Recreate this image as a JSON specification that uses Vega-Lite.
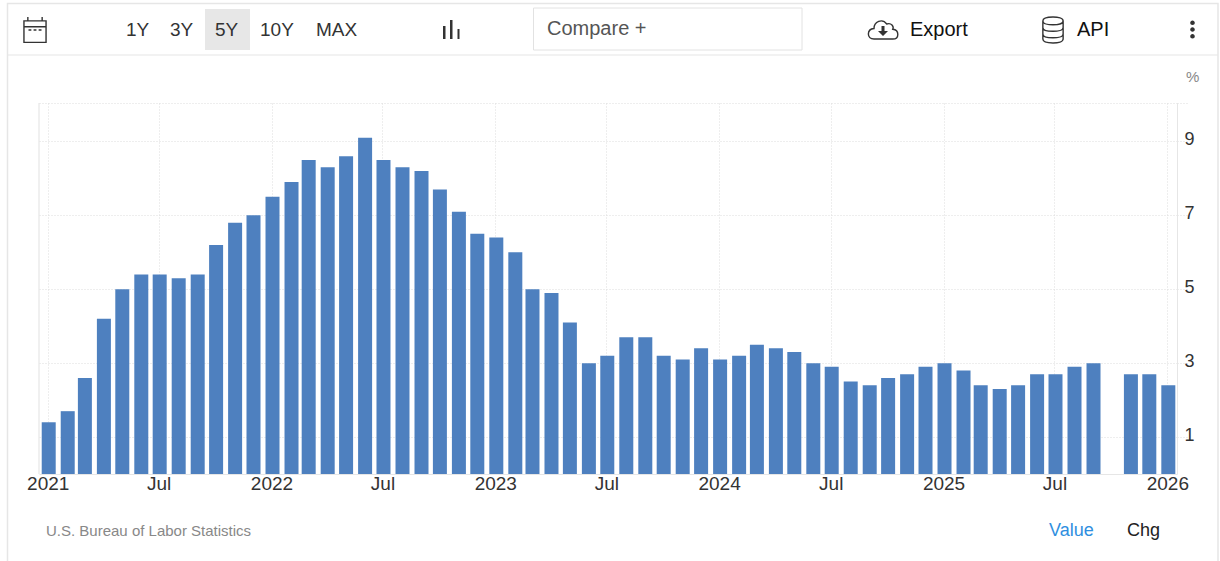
{
  "$schema": "https://vega.github.io/schema/vega-lite/v6.json",
  "width": 1138,
  "height": 371,
  "autosize": {"type": "none"},
  "padding": {"left": 39, "top": 103, "right": 43, "bottom": 87},
  "background": "white",
  "config": {
    "view": {"stroke": null},
    "font": "Liberation Sans",
    "text": {"font": "Liberation Sans"}
  },
  "layer": [
    {
      "data": {"values": [{}]},
      "mark": {"type": "rect", "x": -31.5, "x2": 1179, "y": -99.5, "y2": 500, "fill": null, "stroke": "#e6e6e6", "strokeWidth": 1.5}
    },
    {
      "data": {"values": [{}]},
      "mark": {"type": "rect", "x": -31.5, "x2": 1179, "y": -48.6, "y2": -47.4, "fill": "#e6e6e6"}
    },
    {
      "data": {"values": [{}]},
      "mark": {"type": "rect", "x": -0.6, "x2": 0.6, "y": 0, "y2": 371, "fill": "#e6e6e6"}
    },
    {
      "data": {"values": [{}]},
      "mark": {"type": "rect", "x": 166, "x2": 211, "y": -94, "y2": -53, "fill": "#e7e7e7"}
    },
    {
      "data": {"values": [{}]},
      "mark": {"type": "rect", "x": 494.5, "x2": 763, "y": -95, "y2": -53, "fill": null, "stroke": "#e2e2e2", "strokeWidth": 1}
    },
    {
      "data": {"values": [{}]},
      "mark": {"type": "point", "x": -4, "y": -73, "size": 676, "filled": false, "stroke": "#333333", "strokeWidth": 1.4, "opacity": 1,
        "shape": "M-0.85,-0.7H0.85V0.95H-0.85Z M-0.85,-0.25H0.85 M-0.55,-1V-0.7 M0.55,-1V-0.7 M-0.5,0H-0.28 M-0.11,0H0.11 M0.28,0H0.5"}
    },
    {
      "data": {"values": [{}]},
      "mark": {"type": "point", "x": 412, "y": -73.5, "size": 400, "filled": true, "fill": "#333333", "stroke": null, "opacity": 1,
        "shape": "M-0.8,-0.35H-0.55V0.95H-0.8Z M-0.1,-0.95H0.15V0.95H-0.1Z M0.65,-0.05H0.85V0.95H0.65Z"}
    },
    {
      "data": {"values": [{}]},
      "mark": {"type": "point", "x": 844, "y": -73, "size": 900, "filled": false, "stroke": "#333333", "strokeWidth": 1.4, "opacity": 1,
        "shape": "M-0.6,0.6C-1.1,0.6 -1.1,-0.05 -0.6,-0.1C-0.6,-0.55 -0.05,-0.8 0.25,-0.4C0.55,-0.5 0.75,-0.25 0.65,-0.05C1.1,0 1.1,0.6 0.65,0.6Z"}
    },
    {
      "data": {"values": [{}]},
      "mark": {"type": "point", "x": 844, "y": -72, "size": 100, "filled": true, "fill": "#333333", "stroke": null, "opacity": 1,
        "shape": "M-0.3,-1H0.3V0H1L0,1L-1,0H-0.3Z"}
    },
    {
      "data": {"values": [{}]},
      "mark": {"type": "point", "x": 1014, "y": -73, "size": 676, "filled": false, "stroke": "#333333", "strokeWidth": 1.4, "opacity": 1,
        "shape": "M-0.78,-0.7C-0.78,-1.1 0.78,-1.1 0.78,-0.7C0.78,-0.3 -0.78,-0.3 -0.78,-0.7V0.7C-0.78,1.1 0.78,1.1 0.78,0.7V-0.7M-0.78,-0.2C-0.78,0.2 0.78,0.2 0.78,-0.2M-0.78,0.3C-0.78,0.7 0.78,0.7 0.78,0.3"}
    },
    {
      "data": {"values": [{}]},
      "mark": {"type": "point", "x": 1153.5, "y": -73.5, "size": 400, "filled": true, "fill": "#333333", "stroke": null, "opacity": 1,
        "shape": "M-0.23,-0.68A0.23,0.23 0 1 1 0.23,-0.68A0.23,0.23 0 1 1 -0.23,-0.68ZM-0.23,0A0.23,0.23 0 1 1 0.23,0A0.23,0.23 0 1 1 -0.23,0ZM-0.23,0.68A0.23,0.23 0 1 1 0.23,0.68A0.23,0.23 0 1 1 -0.23,0.68Z"}
    },
    {"data": {"values": [{}]}, "mark": {"type": "text", "text": "1Y", "x": 87, "y": -73, "align": "left", "baseline": "middle", "fontSize": 19, "fill": "#333333"}},
    {"data": {"values": [{}]}, "mark": {"type": "text", "text": "3Y", "x": 131, "y": -73, "align": "left", "baseline": "middle", "fontSize": 19, "fill": "#333333"}},
    {"data": {"values": [{}]}, "mark": {"type": "text", "text": "5Y", "x": 176, "y": -73, "align": "left", "baseline": "middle", "fontSize": 19, "fill": "#333333"}},
    {"data": {"values": [{}]}, "mark": {"type": "text", "text": "10Y", "x": 221, "y": -73, "align": "left", "baseline": "middle", "fontSize": 19, "fill": "#333333"}},
    {"data": {"values": [{}]}, "mark": {"type": "text", "text": "MAX", "x": 277, "y": -73, "align": "left", "baseline": "middle", "fontSize": 19, "fill": "#333333"}},
    {"data": {"values": [{}]}, "mark": {"type": "text", "text": "Compare +", "x": 508, "y": -74, "align": "left", "baseline": "middle", "fontSize": 20, "fill": "#555555"}},
    {"data": {"values": [{}]}, "mark": {"type": "text", "text": "Export", "x": 871, "y": -73, "align": "left", "baseline": "middle", "fontSize": 20, "fill": "#111111"}},
    {"data": {"values": [{}]}, "mark": {"type": "text", "text": "API", "x": 1038, "y": -73, "align": "left", "baseline": "middle", "fontSize": 20, "fill": "#111111"}},
    {"data": {"values": [{}]}, "mark": {"type": "text", "text": "%", "x": 1147, "y": -26, "align": "left", "baseline": "middle", "fontSize": 15, "fill": "#888888"}},
    {"data": {"values": [{}]}, "mark": {"type": "text", "text": "U.S. Bureau of Labor Statistics", "x": 7, "y": 428, "align": "left", "baseline": "middle", "fontSize": 15, "fill": "#888888"}},
    {"data": {"values": [{}]}, "mark": {"type": "text", "text": "Value", "x": 1010, "y": 428, "align": "left", "baseline": "middle", "fontSize": 18, "fill": "#2f8fdf"}},
    {"data": {"values": [{}]}, "mark": {"type": "text", "text": "Chg", "x": 1088, "y": 428, "align": "left", "baseline": "middle", "fontSize": 18, "fill": "#222222"}},
    {
      "data": {
        "values": [
          {"date": "2021-01-01", "value": 1.4}, {"date": "2021-02-01", "value": 1.7}, {"date": "2021-03-01", "value": 2.6},
          {"date": "2021-04-01", "value": 4.2}, {"date": "2021-05-01", "value": 5.0}, {"date": "2021-06-01", "value": 5.4},
          {"date": "2021-07-01", "value": 5.4}, {"date": "2021-08-01", "value": 5.3}, {"date": "2021-09-01", "value": 5.4},
          {"date": "2021-10-01", "value": 6.2}, {"date": "2021-11-01", "value": 6.8}, {"date": "2021-12-01", "value": 7.0},
          {"date": "2022-01-01", "value": 7.5}, {"date": "2022-02-01", "value": 7.9}, {"date": "2022-03-01", "value": 8.5},
          {"date": "2022-04-01", "value": 8.3}, {"date": "2022-05-01", "value": 8.6}, {"date": "2022-06-01", "value": 9.1},
          {"date": "2022-07-01", "value": 8.5}, {"date": "2022-08-01", "value": 8.3}, {"date": "2022-09-01", "value": 8.2},
          {"date": "2022-10-01", "value": 7.7}, {"date": "2022-11-01", "value": 7.1}, {"date": "2022-12-01", "value": 6.5},
          {"date": "2023-01-01", "value": 6.4}, {"date": "2023-02-01", "value": 6.0}, {"date": "2023-03-01", "value": 5.0},
          {"date": "2023-04-01", "value": 4.9}, {"date": "2023-05-01", "value": 4.1}, {"date": "2023-06-01", "value": 3.0},
          {"date": "2023-07-01", "value": 3.2}, {"date": "2023-08-01", "value": 3.7}, {"date": "2023-09-01", "value": 3.7},
          {"date": "2023-10-01", "value": 3.2}, {"date": "2023-11-01", "value": 3.1}, {"date": "2023-12-01", "value": 3.4},
          {"date": "2024-01-01", "value": 3.1}, {"date": "2024-02-01", "value": 3.2}, {"date": "2024-03-01", "value": 3.5},
          {"date": "2024-04-01", "value": 3.4}, {"date": "2024-05-01", "value": 3.3}, {"date": "2024-06-01", "value": 3.0},
          {"date": "2024-07-01", "value": 2.9}, {"date": "2024-08-01", "value": 2.5}, {"date": "2024-09-01", "value": 2.4},
          {"date": "2024-10-01", "value": 2.6}, {"date": "2024-11-01", "value": 2.7}, {"date": "2024-12-01", "value": 2.9},
          {"date": "2025-01-01", "value": 3.0}, {"date": "2025-02-01", "value": 2.8}, {"date": "2025-03-01", "value": 2.4},
          {"date": "2025-04-01", "value": 2.3}, {"date": "2025-05-01", "value": 2.4}, {"date": "2025-06-01", "value": 2.7},
          {"date": "2025-07-01", "value": 2.7}, {"date": "2025-08-01", "value": 2.9}, {"date": "2025-09-01", "value": 3.0},
          {"date": "2025-11-01", "value": 2.7}, {"date": "2025-12-01", "value": 2.7}, {"date": "2026-01-01", "value": 2.4}
        ]
      },
      "mark": {"type": "bar", "width": 14, "xOffset": 1, "color": "#4e80bf"},
      "encoding": {
        "x": {
          "field": "date",
          "type": "temporal",
          "title": null,
          "scale": {
            "type": "utc",
            "nice": false,
            "padding": 0,
            "domain": [
              {"year": 2020, "month": 12, "date": 17, "hours": 19, "utc": true},
              {"year": 2026, "month": 1, "date": 16, "hours": 19, "utc": true}
            ]
          },
          "axis": {
            "tickCount": {"interval": "month", "step": 6},
            "labelExpr": "utcmonth(datum.value) == 0 ? '' + utcyear(datum.value) : 'Jul'",
            "labelFontSize": 19,
            "labelColor": "#333333",
            "labelFont": "Liberation Sans",
            "labelFlush": false,
            "labelOverlap": false,
            "labelBound": false,
            "labelPadding": 0,
            "ticks": false,
            "domainColor": "#e6e6e6",
            "grid": true,
            "gridColor": "#dcdcdc",
            "gridDash": [1, 2]
          }
        },
        "y": {
          "field": "value",
          "type": "quantitative",
          "title": null,
          "scale": {"domain": [0, 10.04], "nice": false},
          "axis": {
            "orient": "right",
            "values": [1, 3, 5, 7, 9, 10.04],
            "labelExpr": "datum.value > 10 ? '' : datum.label",
            "labelFontSize": 18,
            "labelColor": "#333333",
            "labelFont": "Liberation Sans",
            "labelOffset": -2,
            "labelPadding": -4,
            "tickSize": 11,
            "tickColor": "#dcdcdc",
            "tickDash": [1, 2],
            "domainColor": "#e6e6e6",
            "grid": true,
            "gridColor": "#dcdcdc",
            "gridDash": [1, 2]
          }
        }
      }
    }
  ]
}
